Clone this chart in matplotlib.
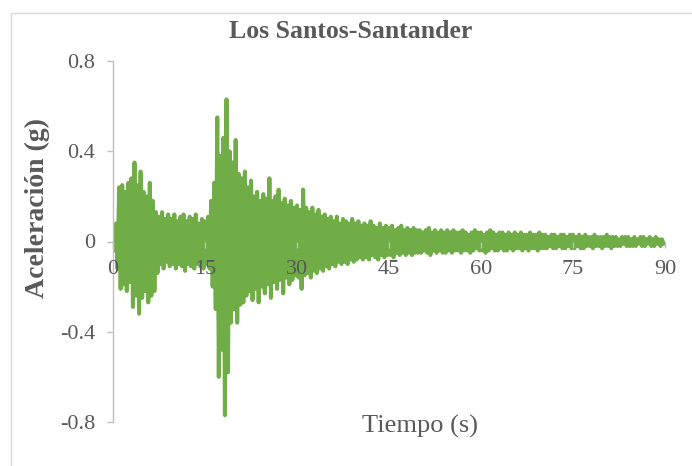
import matplotlib
matplotlib.use("Agg")
import matplotlib.pyplot as plt
from matplotlib.patches import Rectangle
import numpy as np

plt.rcParams['font.family'] = ['Liberation Serif', 'DejaVu Serif']
plt.rcParams['path.simplify'] = False  # keep every oscillation of the record

# Acelerograma Los Santos (Santander): picos positivos y negativos por medio ciclo
dt = 0.25  # s entre picos consecutivos

picos_pos = [
    0.04, 0.08, 0.24, 0.25, 0.22, 0.26, 0.28, 0.35, 0.25, 0.31,   # 0 - 4.5 s
    0.22, 0.20, 0.26, 0.18, 0.13, 0.11, 0.13, 0.10, 0.12, 0.10,   # 5 - 9.5 s
    0.12, 0.09, 0.11, 0.12, 0.09, 0.11, 0.10, 0.12, 0.08, 0.10,   # 10 - 14.5 s
    0.09, 0.11, 0.18, 0.26, 0.55, 0.38, 0.46, 0.63, 0.40, 0.35,   # 15 - 19.5 s
    0.45, 0.30, 0.28, 0.31, 0.24, 0.27, 0.20, 0.22, 0.18, 0.21,   # 20 - 24.5 s
    0.19, 0.28, 0.18, 0.20, 0.23, 0.17, 0.19, 0.16, 0.18, 0.15,   # 25 - 29.5 s
    0.16, 0.14, 0.23, 0.15, 0.13, 0.15, 0.12, 0.14, 0.11, 0.12,   # 30 - 34.5 s
    0.10, 0.11, 0.09, 0.11, 0.08, 0.10, 0.09, 0.08, 0.10, 0.08,   # 35 - 39.5 s
    0.09, 0.07, 0.08, 0.07, 0.09, 0.07, 0.06, 0.08, 0.06, 0.07,   # 40 - 44.5 s
    0.06, 0.07, 0.05, 0.06, 0.07, 0.05, 0.06, 0.05, 0.06, 0.05,   # 45 - 49.5 s
    0.05, 0.04, 0.05, 0.06, 0.04, 0.05, 0.04, 0.05, 0.04, 0.05,   # 50 - 54.5 s
    0.04, 0.05, 0.04, 0.04, 0.05, 0.04, 0.03, 0.04, 0.05, 0.04,   # 55 - 59.5 s
    0.04, 0.03, 0.04, 0.05, 0.04, 0.03, 0.04, 0.04, 0.03, 0.04,   # 60 - 64.5 s
    0.03, 0.04, 0.03, 0.04, 0.03, 0.03, 0.04, 0.03, 0.03, 0.04,   # 65 - 69.5 s
    0.03, 0.03, 0.02, 0.03, 0.03, 0.02, 0.03, 0.03, 0.02, 0.03,   # 70 - 74.5 s
    0.03, 0.02, 0.03, 0.02, 0.03, 0.02, 0.02, 0.03, 0.02, 0.02,   # 75 - 79.5 s
    0.02, 0.03, 0.02, 0.02, 0.02, 0.01, 0.02, 0.02, 0.02, 0.01,   # 80 - 84.5 s
    0.02, 0.01, 0.02, 0.02, 0.01, 0.02, 0.01, 0.02, 0.01, 0.01,   # 85 - 89.5 s
]

picos_neg = [
    -0.04, -0.12, -0.21, -0.19, -0.22, -0.18, -0.29, -0.24, -0.32, -0.25,
    -0.22, -0.27, -0.24, -0.22, -0.14, -0.10, -0.12, -0.09, -0.11, -0.10,
    -0.12, -0.10, -0.11, -0.13, -0.10, -0.11, -0.12, -0.10, -0.11, -0.12,
    -0.10, -0.12, -0.20, -0.30, -0.60, -0.48, -0.77, -0.58, -0.36, -0.30,
    -0.36, -0.28, -0.27, -0.24, -0.22, -0.26, -0.21, -0.27, -0.20, -0.23,
    -0.19, -0.25, -0.18, -0.21, -0.17, -0.23, -0.16, -0.19, -0.17, -0.15,
    -0.16, -0.21, -0.15, -0.14, -0.16, -0.13, -0.14, -0.12, -0.13, -0.11,
    -0.12, -0.10, -0.11, -0.09, -0.10, -0.09, -0.10, -0.08, -0.09, -0.08,
    -0.07, -0.08, -0.07, -0.08, -0.06, -0.07, -0.08, -0.06, -0.07, -0.06,
    -0.06, -0.07, -0.05, -0.06, -0.05, -0.06, -0.05, -0.06, -0.05, -0.05,
    -0.05, -0.04, -0.05, -0.06, -0.04, -0.05, -0.04, -0.05, -0.05, -0.04,
    -0.05, -0.04, -0.04, -0.05, -0.04, -0.04, -0.05, -0.04, -0.03, -0.04,
    -0.04, -0.05, -0.04, -0.03, -0.04, -0.04, -0.03, -0.04, -0.04, -0.03,
    -0.04, -0.03, -0.03, -0.04, -0.03, -0.04, -0.03, -0.03, -0.04, -0.03,
    -0.03, -0.03, -0.02, -0.03, -0.03, -0.02, -0.03, -0.03, -0.02, -0.03,
    -0.03, -0.02, -0.03, -0.03, -0.02, -0.02, -0.03, -0.02, -0.02, -0.03,
    -0.02, -0.02, -0.03, -0.02, -0.02, -0.02, -0.01, -0.02, -0.02, -0.02,
    -0.02, -0.01, -0.02, -0.02, -0.01, -0.02, -0.02, -0.01, -0.02, -0.01,
]

ticks_x = [0, 15, 30, 45, 60, 75, 90]
ticks_y = [-0.8, -0.4, 0, 0.4, 0.8]
etiquetas_y = ['-0.8', '-0.4', '0', '0.4', '0.8']

# alternar pico positivo / negativo
acel = np.empty(2 * len(picos_pos))
acel[0::2] = picos_pos
acel[1::2] = picos_neg
tiempo = np.arange(len(acel)) * dt

gris = '#BFBFBF'
texto = '#595959'

fig = plt.figure(figsize=(6.92, 4.66), dpi=100)
fig.patches.append(Rectangle((11 / 692, -0.1), 1.2, 1 - 13 / 466 + 0.1,
                             transform=fig.transFigure, fill=False,
                             edgecolor='#D9D9D9', linewidth=1.0))

ax = fig.add_axes([113 / 692, 1 - 422 / 466, 552 / 692, 361 / 466])
ax.plot(tiempo, acel, color='#70AD47', linewidth=2.9, solid_joinstyle='round',
        zorder=1)

ax.set_xlim(0, 90)
ax.set_ylim(-0.8, 0.8)
ax.set_xticks(ticks_x)
ax.set_yticks(ticks_y)
ax.set_yticklabels(etiquetas_y)

ax.spines['top'].set_visible(False)
ax.spines['right'].set_visible(False)
ax.spines['bottom'].set_position(('data', 0))
ax.spines['bottom'].set_zorder(0.5)
for s in ('left', 'bottom'):
    ax.spines[s].set_color(gris)
    ax.spines[s].set_linewidth(1.0)
ax.tick_params(axis='both', direction='out', length=4, width=1.0, color=gris,
               labelcolor=texto, labelsize=16)
ax.tick_params(axis='y', pad=9)
ax.tick_params(axis='x', pad=9)
ax.xaxis.set_zorder(5)

fig.text(351 / 692, 1 - 32 / 466, 'Los Santos-Santander', ha='center', va='center',
         fontsize=18.5, fontweight='bold', color=texto)
fig.text(420 / 692, 1 - 426 / 466, 'Tiempo (s)', ha='center', va='center',
         fontsize=19, color=texto)
fig.text(37 / 692, 1 - 208 / 466, 'Aceleración (g)', ha='center', va='center',
         rotation=90, fontsize=20, fontweight='bold', color=texto)

fig.savefig('out.png', dpi=100)
